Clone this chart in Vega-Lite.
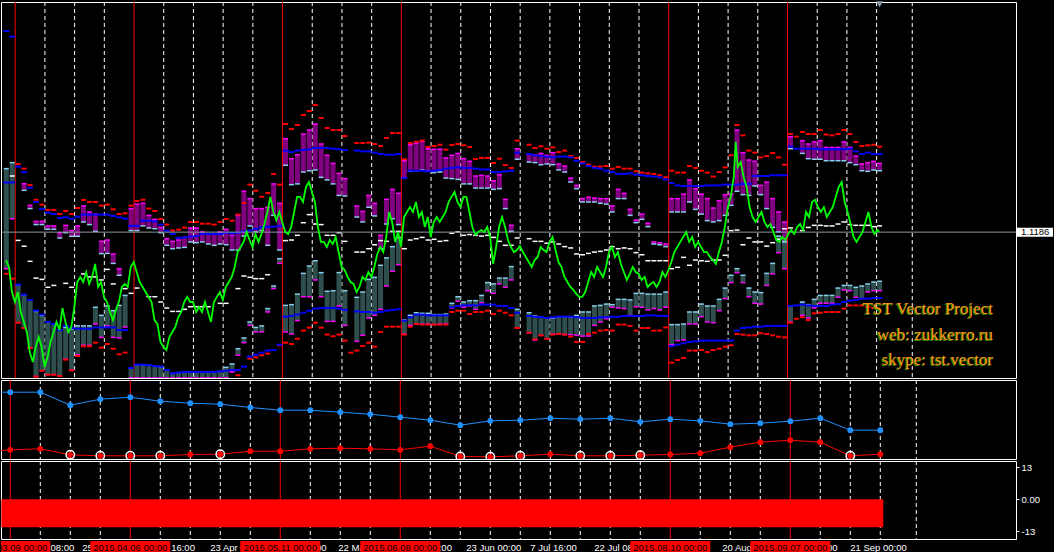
{
"$schema":"https://vega.github.io/schema/vega-lite/v6.json",
"background":"#000000",
"padding":0,
"spacing":2,
"bounds":"flush",
"config":{"view":{"stroke":"#FFFFFF","strokeWidth":1},"tick":{"opacity":1},"point":{"opacity":1},"area":{"opacity":1},"axis":{"labelColor":"#FFFFFF","tickColor":"#FFFFFF","domain":false,"grid":false,"labelFont":"Liberation Sans","labelFontSize":9.5,"tickSize":3,"labelPadding":2}},
"datasets":{
"grid":[{"i":-0.5,"kind":"month"},{"i":4.5,"kind":"week"},{"i":9.5,"kind":"week"},{"i":14.5,"kind":"week"},{"i":19.5,"kind":"month"},{"i":24.5,"kind":"week"},{"i":29.5,"kind":"week"},{"i":34.5,"kind":"week"},{"i":39.5,"kind":"week"},{"i":44.5,"kind":"month"},{"i":49.5,"kind":"week"},{"i":54.5,"kind":"week"},{"i":59.5,"kind":"week"},{"i":64.5,"kind":"month"},{"i":69.5,"kind":"week"},{"i":74.5,"kind":"week"},{"i":79.5,"kind":"week"},{"i":84.5,"kind":"week"},{"i":89.5,"kind":"week"},{"i":94.5,"kind":"week"},{"i":99.5,"kind":"week"},{"i":104.5,"kind":"week"},{"i":109.5,"kind":"month"},{"i":114.5,"kind":"week"},{"i":119.5,"kind":"week"},{"i":124.5,"kind":"week"},{"i":129.5,"kind":"month"},{"i":134.5,"kind":"week"},{"i":139.5,"kind":"week"},{"i":144.5,"kind":"week"},{"i":150.5,"kind":"week"}],
"cur":[{"p":1.1186}],
"notes":[{"i":164.1,"p":1.078,"txt":"TST Vector Project"},{"i":164.1,"p":1.064,"txt":"web: zukkerro.ru"},{"i":164.1,"p":1.0507,"txt":"skype: tst.vector"}],
"shift":[{"i":145,"p":1.2396}],
"days":[
{"i":-2,"ub":1.2254,"lb":1.145,"lr":1.0965,"st":1.1523,"sb":1.0992,"osc":-11.3},
{"i":-1,"ub":1.2224,"lb":1.145,"lr":1.0939,"w":1.1484,"st":1.1555,"sb":1.1257,"osc":-11.3},
{"i":0,"ur":1.1548,"ub":1.1534,"lb":1.0907,"lr":1.0705,"w":1.1142,"st":1.0907,"sb":1.0705,"osc":-11.3},
{"i":1,"ur":1.1523,"ub":1.1505,"lb":1.0854,"lr":1.0677,"w":1.1111,"pt":1.1443,"pb":1.1408,"st":1.0854,"sb":1.0677,"osc":-11.3},
{"i":2,"ur":1.1436,"ub":1.1422,"lb":1.0826,"lr":1.0571,"w":1.1031,"pt":1.1328,"pb":1.1311,"st":1.0826,"sb":1.0571,"osc":-11.3},
{"i":3,"ur":1.1358,"ub":1.1346,"lb":1.0769,"lr":1.0419,"w":1.0942,"pt":1.1243,"pb":1.1226,"st":1.0765,"sb":1.0419,"osc":-11.3},
{"i":4,"ur":1.1332,"ub":1.1309,"lb":1.0748,"lr":1.045,"w":1.0935,"pt":1.1243,"pb":1.1226,"st":1.0744,"sb":1.045,"osc":-11.3},
{"i":5,"ur":1.1304,"ub":1.1289,"lb":1.0709,"lr":1.0429,"w":1.0893,"pt":1.1219,"pb":1.1201,"st":1.0709,"sb":1.0429,"osc":-11.3},
{"i":6,"ur":1.1304,"ub":1.1282,"lb":1.0698,"lr":1.0429,"w":1.0903,"pt":1.1219,"pb":1.1201,"st":1.0698,"sb":1.0429,"osc":-11.3},
{"i":7,"ur":1.1282,"ub":1.1261,"lb":1.0666,"lr":1.0422,"pt":1.1183,"pb":1.1155,"st":1.0666,"sb":1.0422,"osc":-11.3},
{"i":8,"ur":1.1298,"ub":1.1265,"lb":1.0688,"lr":1.0509,"w":1.0914,"pt":1.1222,"pb":1.1183,"st":1.068,"sb":1.0511,"osc":-11.3},
{"i":9,"ur":1.1282,"ub":1.1257,"lb":1.0677,"lr":1.0452,"w":1.0893,"pt":1.1194,"pb":1.1164,"st":1.0673,"sb":1.0454,"osc":-11.3},
{"i":10,"ur":1.1314,"ub":1.1268,"lb":1.0673,"lr":1.0528,"pt":1.1219,"pb":1.1164,"st":1.0688,"sb":1.0535,"osc":-11.3},
{"i":11,"ur":1.1357,"ub":1.1279,"lb":1.0673,"lr":1.058,"w":1.0964,"pt":1.1325,"pb":1.124,"st":1.0688,"sb":1.0585,"osc":-11.3},
{"i":12,"ur":1.1346,"ub":1.1279,"lb":1.0673,"lr":1.058,"w":1.0948,"pt":1.1293,"pb":1.1226,"st":1.0688,"sb":1.0585,"osc":-11.3},
{"i":13,"ur":1.1346,"ub":1.1279,"lb":1.068,"lr":1.0599,"w":1.0948,"pt":1.1282,"pb":1.119,"st":1.0787,"sb":1.0698,"osc":-11.3},
{"i":14,"ur":1.1327,"ub":1.1279,"lb":1.068,"lr":1.0573,"w":1.0932,"pt":1.1137,"pb":1.1072,"st":1.0744,"sb":1.0627,"osc":-11.3},
{"i":15,"ur":1.1332,"ub":1.1279,"lb":1.068,"lr":1.0592,"w":1.0988,"pt":1.1144,"pb":1.1073,"st":1.0794,"sb":1.0688,"osc":-11.3},
{"i":16,"ur":1.1307,"ub":1.1272,"lb":1.068,"lr":1.0567,"w":1.0911,"pt":1.107,"pb":1.102,"st":1.0769,"sb":1.0627,"osc":-11.3},
{"i":17,"ur":1.1282,"ub":1.1265,"lb":1.0666,"lr":1.0537,"pt":1.0992,"pb":1.0957,"st":1.0797,"sb":1.0624,"osc":-11.3},
{"i":18,"ur":1.1286,"ub":1.1257,"lb":1.0666,"lr":1.0546,"w":1.0886,"st":1.085,"sb":1.0682,"osc":-11.3},
{"i":19,"ur":1.1327,"ub":1.1219,"lb":1.0465,"w":1.0861,"pt":1.1311,"pb":1.1194,"st":1.0465,"sb":1.0412,"osc":-11.3},
{"i":20,"ur":1.1351,"ub":1.1219,"lb":1.0482,"w":1.0889,"pt":1.1335,"pb":1.1194,"st":1.0482,"sb":1.0412,"osc":-11.3},
{"i":21,"ur":1.1358,"ub":1.1247,"lb":1.0482,"pt":1.1339,"pb":1.1219,"st":1.0482,"sb":1.0412,"osc":-11.3},
{"i":22,"ur":1.1311,"ub":1.1247,"lb":1.0479,"w":1.0843,"pt":1.1275,"pb":1.1208,"st":1.0479,"sb":1.0412,"osc":-11.3},
{"i":23,"ur":1.1298,"ub":1.1243,"lb":1.0475,"w":1.0843,"pt":1.1254,"pb":1.1204,"st":1.0475,"sb":1.0412,"osc":-11.3},
{"i":24,"ur":1.1256,"ub":1.1226,"lb":1.0472,"w":1.0815,"pt":1.1211,"pb":1.1183,"st":1.0472,"sb":1.0412,"osc":-11.3},
{"i":25,"ur":1.1226,"ub":1.1194,"lb":1.0454,"w":1.0783,"pt":1.1151,"pb":1.1116,"st":1.0454,"sb":1.0412,"osc":-11.3},
{"i":26,"ur":1.1194,"ub":1.1176,"lb":1.0436,"w":1.0765,"pt":1.1137,"pb":1.1098,"st":1.0436,"sb":1.0412,"osc":-11.3},
{"i":27,"ur":1.1199,"ub":1.1155,"lb":1.044,"w":1.0765,"pt":1.1144,"pb":1.1102,"st":1.044,"sb":1.0412,"osc":-11.3},
{"i":28,"ur":1.121,"ub":1.1158,"lb":1.0443,"w":1.0776,"pt":1.1158,"pb":1.1105,"st":1.0443,"sb":1.0412,"osc":-11.3},
{"i":29,"ur":1.124,"ub":1.1162,"lb":1.0443,"w":1.079,"pt":1.1208,"pb":1.1134,"st":1.0443,"sb":1.0412,"osc":-11.3},
{"i":30,"ur":1.124,"ub":1.1165,"lb":1.0443,"w":1.079,"pt":1.1208,"pb":1.113,"st":1.0443,"sb":1.0412,"osc":-11.3},
{"i":31,"ur":1.1231,"ub":1.1176,"lb":1.0443,"w":1.079,"pt":1.1187,"pb":1.1134,"st":1.0443,"sb":1.0412,"osc":-11.3},
{"i":32,"ur":1.1231,"ub":1.1176,"lb":1.0443,"w":1.079,"pt":1.1176,"pb":1.1123,"st":1.0443,"sb":1.0412,"osc":-11.3},
{"i":33,"ur":1.1226,"ub":1.1176,"lb":1.0443,"pt":1.1176,"pb":1.1116,"st":1.0443,"sb":1.0412,"osc":-11.3},
{"i":34,"ur":1.124,"ub":1.1176,"lb":1.0447,"w":1.0808,"pt":1.1187,"pb":1.1123,"st":1.0447,"sb":1.0412,"osc":-11.3},
{"i":35,"ur":1.1256,"ub":1.1183,"lb":1.045,"w":1.0808,"pt":1.1201,"pb":1.1119,"st":1.0468,"sb":1.0412,"osc":-11.3},
{"i":36,"ur":1.1247,"ub":1.118,"lb":1.0454,"pt":1.1169,"pb":1.1091,"st":1.0486,"sb":1.0443,"osc":-11.3},
{"i":37,"ur":1.1279,"ub":1.1183,"lb":1.0454,"lr":1.0426,"w":1.0886,"pt":1.1275,"pb":1.1091,"st":1.0567,"sb":1.0532,"osc":-11.3},
{"i":38,"ur":1.1341,"ub":1.119,"lb":1.0472,"w":1.0953,"pt":1.1403,"pb":1.1165,"st":1.0624,"sb":1.0599,"osc":-11.3},
{"i":39,"ur":1.1438,"ub":1.1194,"lb":1.0525,"lr":1.0514,"w":1.0946,"pt":1.1364,"pb":1.1219,"st":1.0709,"sb":1.0691,"osc":-11.3},
{"i":40,"ur":1.1406,"ub":1.1204,"lb":1.0535,"lr":1.0521,"w":1.0939,"pt":1.1311,"pb":1.1187,"st":1.068,"sb":1.0656,"osc":-11.3},
{"i":41,"ur":1.1374,"ub":1.1211,"lb":1.0546,"lr":1.0532,"w":1.0939,"pt":1.1311,"pb":1.1194,"st":1.0688,"sb":1.0656,"osc":-11.3},
{"i":42,"ur":1.1394,"ub":1.1215,"lb":1.0557,"lr":1.0541,"w":1.096,"pt":1.1318,"pb":1.1116,"st":1.078,"sb":1.0762,"osc":-11.3},
{"i":43,"ur":1.1495,"ub":1.1215,"lb":1.056,"pt":1.1442,"pb":1.1275,"st":1.09,"sb":1.0886,"osc":-11.3},
{"i":44,"ur":1.1438,"ub":1.1219,"lb":1.0588,"lr":1.0585,"pt":1.1339,"pb":1.1091,"st":1.1045,"sb":1.102,"osc":-11.3},
{"i":45,"ur":1.176,"ub":1.1619,"lb":1.0737,"lr":1.0599,"w":1.1141,"pt":1.1682,"pb":1.1541,"st":1.0797,"sb":1.0656,"osc":-11.3},
{"i":46,"ur":1.1734,"ub":1.1611,"lb":1.0741,"lr":1.0592,"w":1.1144,"pt":1.1576,"pb":1.1438,"st":1.0801,"sb":1.0645,"osc":-11.3},
{"i":47,"ur":1.1755,"ub":1.1619,"lb":1.0748,"lr":1.062,"w":1.1169,"pt":1.1597,"pb":1.1442,"st":1.0857,"sb":1.0716,"osc":-11.3},
{"i":48,"ur":1.1808,"ub":1.1622,"lb":1.0758,"lr":1.0663,"w":1.1236,"pt":1.1707,"pb":1.1505,"st":1.0967,"sb":1.0843,"osc":-11.3},
{"i":49,"ur":1.1829,"ub":1.1626,"lb":1.0769,"lr":1.0679,"w":1.1279,"pt":1.1728,"pb":1.1512,"st":1.1006,"sb":1.0843,"osc":-11.3},
{"i":50,"ur":1.1861,"ub":1.1633,"lb":1.078,"lr":1.0705,"w":1.1229,"pt":1.176,"pb":1.1516,"st":1.1034,"sb":1.0932,"osc":-11.3},
{"i":51,"ur":1.1792,"ub":1.1633,"lb":1.0783,"lr":1.0679,"w":1.1226,"pt":1.1654,"pb":1.1477,"st":1.0971,"sb":1.0843,"osc":-11.3},
{"i":52,"ur":1.1739,"ub":1.1633,"lb":1.0783,"lr":1.0642,"w":1.1169,"pt":1.1594,"pb":1.1463,"st":1.0872,"sb":1.0712,"osc":-11.3},
{"i":53,"ur":1.1728,"ub":1.1629,"lb":1.0783,"lr":1.0633,"w":1.1169,"pt":1.1551,"pb":1.1442,"st":1.0875,"sb":1.0712,"osc":-11.3},
{"i":54,"ur":1.1728,"ub":1.1626,"lb":1.078,"lr":1.0642,"w":1.1183,"pt":1.1498,"pb":1.1381,"st":1.0971,"sb":1.0794,"osc":-11.3},
{"i":55,"ur":1.1696,"ub":1.1622,"lb":1.0773,"lr":1.061,"w":1.1137,"pt":1.147,"pb":1.1378,"st":1.0875,"sb":1.0691,"osc":-11.3},
{"i":56,"lr":1.0546,"osc":-11.3},
{"i":57,"ur":1.1659,"ub":1.1619,"lb":1.0765,"lr":1.0557,"w":1.108,"pt":1.1325,"pb":1.1266,"st":1.084,"sb":1.0606,"osc":-11.3},
{"i":58,"ur":1.1659,"ub":1.1615,"lb":1.0762,"lr":1.0581,"w":1.108,"pt":1.1296,"pb":1.124,"st":1.0868,"sb":1.0638,"osc":-11.3},
{"i":59,"ur":1.1661,"ub":1.1615,"lb":1.0762,"lr":1.0599,"w":1.1098,"pt":1.1381,"pb":1.1318,"st":1.0935,"sb":1.073,"osc":-11.3},
{"i":60,"ur":1.1654,"ub":1.1608,"lb":1.0758,"lr":1.0578,"w":1.1119,"pt":1.1339,"pb":1.1272,"st":1.0946,"sb":1.0744,"osc":-11.3},
{"i":61,"ur":1.1643,"ub":1.1601,"lb":1.0762,"lr":1.0656,"w":1.1141,"pt":1.1169,"pb":1.1098,"st":1.101,"sb":1.0776,"osc":-11.3},
{"i":62,"ur":1.1686,"ub":1.1597,"lb":1.0769,"lr":1.0684,"w":1.1137,"pt":1.136,"pb":1.1229,"st":1.1049,"sb":1.09,"osc":-11.3},
{"i":63,"ur":1.1712,"ub":1.1597,"lb":1.0773,"lr":1.0684,"w":1.119,"pt":1.1413,"pb":1.1257,"st":1.1109,"sb":1.0978,"osc":-11.3},
{"i":64,"ur":1.1712,"ub":1.1601,"lb":1.0776,"lr":1.0684,"w":1.119,"pt":1.1392,"pb":1.1226,"st":1.1158,"sb":1.1013,"osc":-11.3},
{"i":65,"ur":1.1573,"ub":1.1473,"lb":1.0716,"lr":1.0642,"w":1.1098,"pt":1.1565,"pb":1.1473,"st":1.0719,"sb":1.0645,"osc":-11.3},
{"i":66,"ur":1.1659,"ub":1.1512,"lb":1.0734,"lr":1.0684,"w":1.1144,"pt":1.165,"pb":1.1509,"st":1.0744,"sb":1.0691,"osc":-11.3},
{"i":67,"ur":1.1666,"ub":1.1512,"lb":1.0748,"lr":1.0698,"w":1.1151,"pt":1.1658,"pb":1.1512,"st":1.0758,"sb":1.0698,"osc":-11.3},
{"i":68,"ur":1.1672,"ub":1.1512,"lb":1.0748,"lr":1.0695,"w":1.1158,"pt":1.1668,"pb":1.1516,"st":1.0755,"sb":1.0698,"osc":-11.3},
{"i":69,"ur":1.1638,"ub":1.1509,"lb":1.0744,"lr":1.0695,"w":1.1144,"pt":1.1629,"pb":1.1509,"st":1.0755,"sb":1.0698,"osc":-11.3},
{"i":70,"ur":1.1643,"ub":1.1512,"lb":1.0744,"lr":1.0695,"w":1.1148,"pt":1.1626,"pb":1.1502,"st":1.0748,"sb":1.0695,"osc":-11.3},
{"i":71,"ur":1.165,"ub":1.1516,"lb":1.0744,"lr":1.0695,"w":1.1137,"pt":1.1626,"pb":1.1505,"st":1.0748,"sb":1.0698,"osc":-11.3},
{"i":72,"ur":1.1624,"ub":1.1523,"lb":1.0744,"lr":1.0695,"w":1.1141,"pt":1.158,"pb":1.1473,"st":1.0751,"sb":1.0698,"osc":-11.3},
{"i":73,"ur":1.1649,"ub":1.1527,"lb":1.0787,"lr":1.0762,"w":1.118,"pt":1.1594,"pb":1.147,"st":1.0808,"sb":1.0783,"osc":-11.3},
{"i":74,"ur":1.1654,"ub":1.153,"lb":1.0794,"lr":1.0769,"w":1.1187,"pt":1.1604,"pb":1.1466,"st":1.0843,"sb":1.0819,"osc":-11.3},
{"i":75,"ur":1.1647,"ub":1.1527,"lb":1.0797,"lr":1.0769,"w":1.1169,"pt":1.1576,"pb":1.1442,"st":1.0815,"sb":1.0787,"osc":-11.3},
{"i":76,"ur":1.1638,"ub":1.1527,"lb":1.0797,"lr":1.0751,"w":1.1173,"pt":1.1562,"pb":1.1442,"st":1.0822,"sb":1.0794,"osc":-11.3},
{"i":77,"ur":1.1574,"ub":1.1523,"lb":1.0797,"lr":1.0762,"w":1.1169,"pt":1.1484,"pb":1.142,"st":1.0822,"sb":1.0776,"osc":-11.3},
{"i":78,"ur":1.158,"ub":1.1519,"lb":1.0801,"lr":1.0762,"w":1.1165,"pt":1.1488,"pb":1.142,"st":1.085,"sb":1.0811,"osc":-11.3},
{"i":79,"ur":1.158,"ub":1.1519,"lb":1.0801,"lr":1.0769,"w":1.1169,"pt":1.1484,"pb":1.142,"st":1.0918,"sb":1.0875,"osc":-11.3},
{"i":80,"ur":1.1553,"ub":1.1505,"lb":1.0801,"lr":1.0751,"w":1.1158,"pt":1.1459,"pb":1.1413,"st":1.0911,"sb":1.0861,"osc":-11.3},
{"i":81,"ur":1.1576,"ub":1.1505,"lb":1.0794,"lr":1.0769,"w":1.1137,"pt":1.1491,"pb":1.1417,"st":1.0942,"sb":1.0911,"osc":-11.3},
{"i":82,"ur":1.1542,"ub":1.1509,"lb":1.0794,"lr":1.0758,"w":1.1116,"pt":1.136,"pb":1.1311,"st":1.0942,"sb":1.0893,"osc":-11.3},
{"i":83,"ur":1.1527,"ub":1.1512,"lb":1.0783,"lr":1.0744,"w":1.1116,"pt":1.1222,"pb":1.119,"st":1.1003,"sb":1.0932,"osc":-11.3},
{"i":84,"ur":1.1672,"ub":1.1608,"lb":1.0758,"lr":1.0677,"w":1.1155,"pt":1.1629,"pb":1.1573,"st":1.0776,"sb":1.0677,"osc":-11.3},
{"i":85,"osc":-11.3},
{"i":86,"ur":1.165,"ub":1.1601,"lb":1.0741,"lr":1.0652,"w":1.1151,"pt":1.1601,"pb":1.1558,"st":1.0758,"sb":1.0652,"osc":-11.3},
{"i":87,"ur":1.1633,"ub":1.1594,"lb":1.0737,"lr":1.0617,"w":1.1137,"pt":1.1597,"pb":1.1555,"st":1.0741,"sb":1.0613,"osc":-11.3},
{"i":88,"ur":1.1642,"ub":1.159,"lb":1.0734,"lr":1.0638,"w":1.1137,"pt":1.1604,"pb":1.1544,"st":1.0734,"sb":1.0638,"osc":-11.3},
{"i":89,"ur":1.1629,"ub":1.1587,"lb":1.073,"lr":1.062,"w":1.1127,"pt":1.1594,"pb":1.1548,"st":1.073,"sb":1.062,"osc":-11.3},
{"i":90,"ur":1.1636,"ub":1.1583,"lb":1.0734,"lr":1.0642,"w":1.1134,"pt":1.1608,"pb":1.1544,"st":1.073,"sb":1.0645,"osc":-11.3},
{"i":91,"ur":1.1611,"ub":1.1587,"lb":1.0737,"lr":1.0645,"w":1.1123,"pt":1.1548,"pb":1.1516,"st":1.0737,"sb":1.0645,"osc":-11.3},
{"i":92,"ur":1.1619,"ub":1.1587,"lb":1.0737,"lr":1.0642,"w":1.1109,"pt":1.1537,"pb":1.1505,"st":1.0737,"sb":1.0642,"osc":-11.3},
{"i":93,"ur":1.159,"ub":1.1583,"lb":1.0737,"lr":1.0631,"w":1.1102,"pt":1.1473,"pb":1.1452,"st":1.0737,"sb":1.0642,"osc":-11.3},
{"i":94,"ur":1.158,"ub":1.1565,"lb":1.0734,"lr":1.0603,"w":1.107,"pt":1.1434,"pb":1.1417,"st":1.0744,"sb":1.0638,"osc":-11.3},
{"i":95,"ur":1.1558,"ub":1.1551,"lb":1.073,"lr":1.0603,"w":1.1066,"pt":1.1364,"pb":1.1346,"st":1.0762,"sb":1.0634,"osc":-11.3},
{"i":96,"ur":1.1544,"ub":1.1537,"lb":1.073,"lr":1.0645,"w":1.1073,"pt":1.1371,"pb":1.1346,"st":1.0762,"sb":1.0634,"osc":-11.3},
{"i":97,"ur":1.1534,"ub":1.1527,"lb":1.073,"lr":1.0652,"w":1.108,"pt":1.1367,"pb":1.1346,"st":1.0794,"sb":1.0691,"osc":-11.3},
{"i":98,"ur":1.1534,"ub":1.1523,"lb":1.0734,"lr":1.0663,"w":1.1084,"pt":1.1364,"pb":1.1339,"st":1.0797,"sb":1.0709,"osc":-11.3},
{"i":99,"ur":1.1537,"ub":1.1512,"lb":1.0734,"lr":1.0666,"w":1.1091,"pt":1.1364,"pb":1.1335,"st":1.0804,"sb":1.0726,"osc":-11.3},
{"i":100,"ur":1.1523,"ub":1.1505,"lb":1.0737,"lr":1.0663,"w":1.1109,"pt":1.1325,"pb":1.1293,"st":1.0801,"sb":1.0787,"osc":-11.3},
{"i":101,"ur":1.1532,"ub":1.1495,"lb":1.0737,"lr":1.0695,"w":1.1098,"pt":1.1413,"pb":1.1364,"st":1.0829,"sb":1.0783,"osc":-11.3},
{"i":102,"ur":1.1523,"ub":1.1495,"lb":1.0741,"lr":1.0695,"w":1.1102,"pt":1.1392,"pb":1.1364,"st":1.0829,"sb":1.078,"osc":-11.3},
{"i":103,"ur":1.1523,"ub":1.1498,"lb":1.0741,"lr":1.0688,"w":1.1098,"pt":1.1307,"pb":1.1275,"st":1.0826,"sb":1.0744,"osc":-11.3},
{"i":104,"ur":1.1509,"ub":1.1491,"lb":1.0741,"lr":1.0663,"w":1.1077,"pt":1.125,"pb":1.1236,"st":1.0861,"sb":1.079,"osc":-11.3},
{"i":105,"ur":1.1502,"ub":1.1488,"lb":1.0741,"lr":1.0677,"w":1.1066,"pt":1.1282,"pb":1.1254,"st":1.0861,"sb":1.0787,"osc":-11.3},
{"i":106,"ur":1.1498,"ub":1.1484,"lb":1.0744,"lr":1.0677,"w":1.1034,"pt":1.1233,"pb":1.1215,"st":1.0857,"sb":1.0773,"osc":-11.3},
{"i":107,"ur":1.1495,"ub":1.1481,"lb":1.0744,"lr":1.0663,"w":1.1034,"pt":1.1134,"pb":1.1123,"st":1.0857,"sb":1.078,"osc":-11.3},
{"i":108,"ur":1.1488,"ub":1.1477,"lb":1.0741,"lr":1.0663,"w":1.1034,"pt":1.113,"pb":1.1119,"st":1.0857,"sb":1.0773,"osc":-11.3},
{"i":109,"ur":1.1477,"ub":1.1466,"lb":1.0741,"lr":1.068,"w":1.1034,"pt":1.1123,"pb":1.1109,"st":1.0868,"sb":1.0787,"osc":-11.3},
{"i":110,"ur":1.1512,"ub":1.1447,"lb":1.0581,"lr":1.0493,"w":1.0992,"pt":1.1364,"pb":1.1293,"st":1.0695,"sb":1.0588,"osc":-11.3},
{"i":111,"ur":1.1502,"ub":1.1434,"lb":1.0588,"lr":1.0507,"w":1.0999,"pt":1.1364,"pb":1.1293,"st":1.0695,"sb":1.061,"osc":-11.3},
{"i":112,"ur":1.1502,"ub":1.1431,"lb":1.0596,"lr":1.0518,"w":1.1052,"pt":1.1388,"pb":1.1293,"st":1.0698,"sb":1.0613,"osc":-11.3},
{"i":113,"ur":1.1537,"ub":1.1431,"lb":1.0603,"lr":1.0557,"w":1.101,"pt":1.1463,"pb":1.1346,"st":1.0762,"sb":1.0698,"osc":-11.3},
{"i":114,"ur":1.1527,"ub":1.1431,"lb":1.0606,"lr":1.0557,"w":1.1038,"pt":1.1417,"pb":1.1307,"st":1.0762,"sb":1.0698,"osc":-11.3},
{"i":115,"ur":1.1512,"ub":1.1431,"lb":1.061,"lr":1.056,"w":1.1034,"pt":1.1388,"pb":1.1282,"st":1.0804,"sb":1.0737,"osc":-11.3},
{"i":116,"ur":1.1502,"ub":1.1434,"lb":1.061,"lr":1.0549,"w":1.1031,"pt":1.1364,"pb":1.1247,"st":1.0794,"sb":1.0709,"osc":-11.3},
{"i":117,"ur":1.1481,"ub":1.1434,"lb":1.061,"lr":1.056,"w":1.1038,"pt":1.1314,"pb":1.124,"st":1.0794,"sb":1.0705,"osc":-11.3},
{"i":118,"ur":1.1505,"ub":1.1434,"lb":1.061,"lr":1.0567,"w":1.1038,"pt":1.1353,"pb":1.1247,"st":1.0829,"sb":1.0769,"osc":-11.3},
{"i":119,"ur":1.153,"ub":1.1438,"lb":1.061,"lr":1.0578,"w":1.1063,"pt":1.1385,"pb":1.1275,"st":1.0889,"sb":1.0833,"osc":-11.3},
{"i":120,"ur":1.1594,"ub":1.1438,"lb":1.061,"lr":1.0585,"w":1.1194,"pt":1.1388,"pb":1.1328,"st":1.0957,"sb":1.0918,"osc":-11.3},
{"i":121,"ur":1.1755,"ub":1.1438,"lb":1.0663,"lr":1.0645,"w":1.1197,"pt":1.1728,"pb":1.1403,"st":1.0992,"sb":1.0971,"osc":-11.3},
{"i":122,"ur":1.17,"ub":1.1442,"lb":1.0677,"lr":1.0642,"w":1.1119,"pt":1.1608,"pb":1.1385,"st":1.0957,"sb":1.0918,"osc":-11.3},
{"i":123,"ur":1.1619,"ub":1.1442,"lb":1.068,"lr":1.0638,"w":1.1155,"pt":1.1569,"pb":1.1381,"st":1.0889,"sb":1.0843,"osc":-11.3},
{"i":124,"ur":1.1608,"ub":1.1484,"lb":1.0684,"lr":1.0638,"w":1.1134,"pt":1.1562,"pb":1.1431,"st":1.0868,"sb":1.0808,"osc":-11.3},
{"i":125,"ur":1.1583,"ub":1.1484,"lb":1.0684,"lr":1.0649,"w":1.1134,"pt":1.1434,"pb":1.1385,"st":1.0865,"sb":1.0804,"osc":-11.3},
{"i":126,"ur":1.159,"ub":1.1484,"lb":1.0688,"lr":1.0645,"w":1.1112,"pt":1.1452,"pb":1.1311,"st":1.0967,"sb":1.0903,"osc":-11.3},
{"i":127,"ur":1.1606,"ub":1.1488,"lb":1.0688,"lr":1.0638,"w":1.113,"pt":1.1364,"pb":1.1211,"st":1.102,"sb":1.0964,"osc":-11.3},
{"i":128,"ur":1.1583,"ub":1.1488,"lb":1.0688,"lr":1.0631,"w":1.1148,"pt":1.1293,"pb":1.1187,"st":1.1165,"sb":1.1077,"osc":-11.3},
{"i":129,"ur":1.1544,"ub":1.1488,"lb":1.0688,"lr":1.0627,"w":1.1204,"pt":1.124,"pb":1.1134,"st":1.1137,"sb":1.0992,"osc":-11.3},
{"i":130,"ur":1.1707,"ub":1.164,"lb":1.0794,"lr":1.0705,"w":1.1208,"pt":1.1693,"pb":1.1629,"st":1.0794,"sb":1.0709,"osc":-11.3},
{"i":131,"ur":1.1693,"ub":1.1629,"lb":1.0797,"lr":1.0726,"osc":-11.3},
{"i":132,"ur":1.1718,"ub":1.1629,"lb":1.0801,"lr":1.0734,"w":1.1194,"pt":1.1672,"pb":1.1604,"st":1.0815,"sb":1.0744,"osc":-11.3},
{"i":133,"ur":1.1707,"ub":1.1629,"lb":1.0797,"lr":1.0719,"w":1.1211,"pt":1.1654,"pb":1.1576,"st":1.0801,"sb":1.073,"osc":-11.3},
{"i":134,"ur":1.1707,"ub":1.1629,"lb":1.0794,"lr":1.0755,"w":1.1222,"pt":1.1665,"pb":1.1573,"st":1.0829,"sb":1.0783,"osc":-11.3},
{"i":135,"ur":1.1728,"ub":1.1626,"lb":1.0794,"lr":1.0758,"w":1.1222,"pt":1.1672,"pb":1.1573,"st":1.085,"sb":1.0808,"osc":-11.3},
{"i":136,"ur":1.1704,"ub":1.1626,"lb":1.0794,"lr":1.0762,"w":1.1219,"pt":1.1636,"pb":1.1565,"st":1.085,"sb":1.0808,"osc":-11.3},
{"i":137,"ur":1.17,"ub":1.1626,"lb":1.0801,"lr":1.0762,"w":1.1219,"pt":1.1636,"pb":1.1565,"st":1.085,"sb":1.0808,"osc":-11.3},
{"i":138,"ur":1.1707,"ub":1.1626,"lb":1.0804,"lr":1.0762,"w":1.1229,"pt":1.1636,"pb":1.1565,"st":1.0889,"sb":1.084,"osc":-11.3},
{"i":139,"ur":1.1728,"ub":1.1626,"lb":1.0815,"lr":1.078,"w":1.124,"pt":1.1665,"pb":1.1565,"st":1.0903,"sb":1.0879,"osc":-11.3},
{"i":140,"ur":1.1707,"ub":1.1629,"lb":1.0822,"lr":1.0797,"w":1.1226,"pt":1.1636,"pb":1.1555,"st":1.0903,"sb":1.0875,"osc":-11.3},
{"i":141,"ur":1.1665,"ub":1.1615,"lb":1.0826,"lr":1.0797,"w":1.1222,"pt":1.159,"pb":1.1544,"st":1.0893,"sb":1.084,"osc":-11.3},
{"i":142,"ur":1.1643,"ub":1.1601,"lb":1.0833,"lr":1.0797,"w":1.1222,"pt":1.1548,"pb":1.1512,"st":1.09,"sb":1.0833,"osc":-11.3},
{"i":143,"ur":1.1647,"ub":1.1608,"lb":1.0833,"lr":1.079,"w":1.1222,"pt":1.1555,"pb":1.1509,"st":1.0911,"sb":1.0868,"osc":-11.3},
{"i":144,"ur":1.165,"ub":1.1601,"lb":1.0836,"lr":1.0783,"w":1.1215,"pt":1.1562,"pb":1.1516,"st":1.0921,"sb":1.0875,"osc":-11.3},
{"i":145,"ur":1.164,"ub":1.1601,"lb":1.0836,"w":1.1219,"pt":1.1551,"pb":1.1512,"st":1.0925,"sb":1.0875,"osc":-11.3}
],
"price":[
{"i":-2.05,"p":1.1038},{"i":-1.55,"p":1.1001},{"i":-1.05,"p":1.0868},{"i":-0.55,"p":1.0815},{"i":-0.05,"p":1.0868},{"i":0.45,"p":1.0762},{"i":0.95,"p":1.0709},{"i":1.45,"p":1.0656},{"i":1.95,"p":1.055},{"i":2.45,"p":1.0496},{"i":2.95,"p":1.0576},{"i":3.45,"p":1.0629},{"i":3.95,"p":1.0576},{"i":4.45,"p":1.047},{"i":4.95,"p":1.0523},{"i":5.45,"p":1.0603},{"i":5.95,"p":1.0656},{"i":6.45,"p":1.0709},{"i":6.95,"p":1.0666},{"i":7.45,"p":1.0783},{"i":7.95,"p":1.0709},{"i":8.45,"p":1.0656},{"i":8.95,"p":1.0682},{"i":9.45,"p":1.0788},{"i":9.95,"p":1.0921},{"i":10.45,"p":1.0948},{"i":10.95,"p":1.0921},{"i":11.45,"p":1.0974},{"i":11.95,"p":1.0911},{"i":12.45,"p":1.0948},{"i":12.95,"p":1.1017},{"i":13.45,"p":1.0895},{"i":13.95,"p":1.0921},{"i":14.45,"p":1.0842},{"i":14.95,"p":1.0815},{"i":15.45,"p":1.0762},{"i":15.95,"p":1.0719},{"i":16.45,"p":1.0773},{"i":16.95,"p":1.0815},{"i":17.45,"p":1.0895},{"i":17.95,"p":1.0911},{"i":18.45,"p":1.0895},{"i":18.95,"p":1.1001},{"i":19.45,"p":1.1027},{"i":19.95,"p":1.0974},{"i":20.45,"p":1.0921},{"i":20.95,"p":1.0895},{"i":21.45,"p":1.0868},{"i":21.95,"p":1.0842},{"i":22.45,"p":1.0815},{"i":22.95,"p":1.0719},{"i":23.45,"p":1.0698},{"i":23.95,"p":1.0603},{"i":24.45,"p":1.0576},{"i":24.95,"p":1.056},{"i":25.45,"p":1.0629},{"i":25.95,"p":1.0656},{"i":26.45,"p":1.0682},{"i":26.95,"p":1.0735},{"i":27.45,"p":1.0762},{"i":27.95,"p":1.0815},{"i":28.45,"p":1.0842},{"i":28.95,"p":1.0815},{"i":29.45,"p":1.0815},{"i":29.95,"p":1.0762},{"i":30.45,"p":1.0788},{"i":30.95,"p":1.0762},{"i":31.45,"p":1.0815},{"i":31.95,"p":1.0762},{"i":32.45,"p":1.0709},{"i":32.95,"p":1.0815},{"i":33.45,"p":1.0842},{"i":33.95,"p":1.0868},{"i":34.45,"p":1.0826},{"i":34.95,"p":1.0895},{"i":35.45,"p":1.0921},{"i":35.95,"p":1.0948},{"i":36.45,"p":1.1001},{"i":36.95,"p":1.108},{"i":37.45,"p":1.1107},{"i":37.95,"p":1.1134},{"i":38.45,"p":1.1187},{"i":38.95,"p":1.1144},{"i":39.45,"p":1.1107},{"i":39.95,"p":1.1176},{"i":40.45,"p":1.1134},{"i":40.95,"p":1.1176},{"i":41.45,"p":1.1229},{"i":41.95,"p":1.1293},{"i":42.45,"p":1.1373},{"i":42.95,"p":1.1293},{"i":43.45,"p":1.125},{"i":43.95,"p":1.1293},{"i":44.45,"p":1.124},{"i":44.95,"p":1.1187},{"i":45.45,"p":1.1176},{"i":45.95,"p":1.1213},{"i":46.45,"p":1.1293},{"i":46.95,"p":1.1373},{"i":47.45,"p":1.1373},{"i":47.95,"p":1.1346},{"i":48.45,"p":1.1426},{"i":48.95,"p":1.1452},{"i":49.45,"p":1.1399},{"i":49.95,"p":1.1346},{"i":50.45,"p":1.1213},{"i":50.95,"p":1.1134},{"i":51.45,"p":1.1134},{"i":51.95,"p":1.1107},{"i":52.45,"p":1.1144},{"i":52.95,"p":1.1123},{"i":53.45,"p":1.116},{"i":53.95,"p":1.108},{"i":54.45,"p":1.1001},{"i":54.95,"p":1.0985},{"i":55.45,"p":1.0948},{"i":55.95,"p":1.0921},{"i":56.45,"p":1.0911},{"i":56.95,"p":1.0868},{"i":57.45,"p":1.0895},{"i":57.95,"p":1.0948},{"i":58.45,"p":1.0932},{"i":58.95,"p":1.0974},{"i":59.45,"p":1.0948},{"i":59.95,"p":1.1001},{"i":60.45,"p":1.107},{"i":60.95,"p":1.1107},{"i":61.45,"p":1.108},{"i":61.95,"p":1.116},{"i":62.45,"p":1.1293},{"i":62.95,"p":1.124},{"i":63.45,"p":1.1134},{"i":63.95,"p":1.1187},{"i":64.45,"p":1.1107},{"i":64.95,"p":1.1266},{"i":65.45,"p":1.1293},{"i":65.95,"p":1.1319},{"i":66.45,"p":1.1293},{"i":66.95,"p":1.1346},{"i":67.45,"p":1.1266},{"i":67.95,"p":1.1293},{"i":68.45,"p":1.1213},{"i":68.95,"p":1.1266},{"i":69.45,"p":1.116},{"i":69.95,"p":1.124},{"i":70.45,"p":1.1266},{"i":70.95,"p":1.124},{"i":71.45,"p":1.1266},{"i":71.95,"p":1.1293},{"i":72.45,"p":1.1346},{"i":72.95,"p":1.1373},{"i":73.45,"p":1.1399},{"i":73.95,"p":1.1346},{"i":74.45,"p":1.1319},{"i":74.95,"p":1.1373},{"i":75.45,"p":1.1373},{"i":75.95,"p":1.1293},{"i":76.45,"p":1.1213},{"i":76.95,"p":1.1171},{"i":77.45,"p":1.1187},{"i":77.95,"p":1.1197},{"i":78.45,"p":1.1187},{"i":78.95,"p":1.1213},{"i":79.45,"p":1.116},{"i":79.95,"p":1.1017},{"i":80.45,"p":1.1107},{"i":80.95,"p":1.1213},{"i":81.45,"p":1.1266},{"i":81.95,"p":1.1213},{"i":82.45,"p":1.1144},{"i":82.95,"p":1.1107},{"i":83.45,"p":1.108},{"i":83.95,"p":1.1091},{"i":84.45,"p":1.1112},{"i":84.95,"p":1.108},{"i":85.45,"p":1.1054},{"i":85.95,"p":1.1027},{"i":86.45,"p":1.1001},{"i":86.95,"p":1.1038},{"i":87.45,"p":1.1054},{"i":87.95,"p":1.1107},{"i":88.45,"p":1.1091},{"i":88.95,"p":1.108},{"i":89.45,"p":1.1134},{"i":89.95,"p":1.116},{"i":90.45,"p":1.1091},{"i":90.95,"p":1.1027},{"i":91.45,"p":1.1001},{"i":91.95,"p":1.0948},{"i":92.45,"p":1.0921},{"i":92.95,"p":1.0895},{"i":93.45,"p":1.0879},{"i":93.95,"p":1.0858},{"i":94.45,"p":1.0842},{"i":94.95,"p":1.0842},{"i":95.45,"p":1.0868},{"i":95.95,"p":1.0921},{"i":96.45,"p":1.0974},{"i":96.95,"p":1.0948},{"i":97.45,"p":1.1001},{"i":97.95,"p":1.0974},{"i":98.45,"p":1.0948},{"i":98.95,"p":1.1001},{"i":99.45,"p":1.108},{"i":99.95,"p":1.1107},{"i":100.45,"p":1.1054},{"i":100.95,"p":1.108},{"i":101.45,"p":1.1017},{"i":101.95,"p":1.0974},{"i":102.45,"p":1.0932},{"i":102.95,"p":1.0964},{"i":103.45,"p":1.1001},{"i":103.95,"p":1.0974},{"i":104.45,"p":1.0964},{"i":104.95,"p":1.0932},{"i":105.45,"p":1.0948},{"i":105.95,"p":1.0895},{"i":106.45,"p":1.0911},{"i":106.95,"p":1.0921},{"i":107.45,"p":1.0895},{"i":107.95,"p":1.0921},{"i":108.45,"p":1.0974},{"i":108.95,"p":1.0948},{"i":109.45,"p":1.0985},{"i":109.95,"p":1.1027},{"i":110.45,"p":1.108},{"i":110.95,"p":1.1107},{"i":111.45,"p":1.1134},{"i":111.95,"p":1.116},{"i":112.45,"p":1.1187},{"i":112.95,"p":1.1134},{"i":113.45,"p":1.116},{"i":113.95,"p":1.1107},{"i":114.45,"p":1.1134},{"i":114.95,"p":1.1107},{"i":115.45,"p":1.108},{"i":115.95,"p":1.108},{"i":116.45,"p":1.1054},{"i":116.95,"p":1.1038},{"i":117.45,"p":1.1017},{"i":117.95,"p":1.108},{"i":118.45,"p":1.1134},{"i":118.95,"p":1.1213},{"i":119.45,"p":1.1319},{"i":119.95,"p":1.1373},{"i":120.45,"p":1.1479},{"i":120.78,"p":1.1665},{"i":121.12,"p":1.1532},{"i":121.62,"p":1.1558},{"i":122.12,"p":1.1479},{"i":122.62,"p":1.1426},{"i":123.12,"p":1.1319},{"i":123.62,"p":1.1266},{"i":124.12,"p":1.124},{"i":124.62,"p":1.1266},{"i":125.12,"p":1.1293},{"i":125.62,"p":1.124},{"i":126.12,"p":1.1213},{"i":126.62,"p":1.1229},{"i":127.12,"p":1.1187},{"i":127.62,"p":1.1144},{"i":128.12,"p":1.1134},{"i":128.62,"p":1.116},{"i":129.12,"p":1.1144},{"i":129.62,"p":1.1176},{"i":130.12,"p":1.1197},{"i":130.62,"p":1.1176},{"i":131.12,"p":1.1213},{"i":131.62,"p":1.1229},{"i":132.12,"p":1.1197},{"i":132.62,"p":1.1293},{"i":133.12,"p":1.1266},{"i":133.62,"p":1.1346},{"i":134.12,"p":1.1357},{"i":134.62,"p":1.1319},{"i":135.12,"p":1.1293},{"i":135.62,"p":1.1319},{"i":136.12,"p":1.1266},{"i":136.62,"p":1.1293},{"i":137.12,"p":1.1319},{"i":137.62,"p":1.1373},{"i":138.12,"p":1.1426},{"i":138.62,"p":1.1452},{"i":139.12,"p":1.1346},{"i":139.62,"p":1.1293},{"i":140.12,"p":1.1229},{"i":140.62,"p":1.116},{"i":141.12,"p":1.1134},{"i":141.62,"p":1.116},{"i":142.12,"p":1.1187},{"i":142.62,"p":1.124},{"i":143.12,"p":1.1293},{"i":143.62,"p":1.1213},{"i":144.12,"p":1.1176},{"i":144.62,"p":1.1197},{"i":144.95,"p":1.1187}
],
"wk":[
{"i":-5.5,"blue":246500,"red":0},{"i":-0.5,"blue":246500,"red":11000},{"i":4.5,"blue":246500,"red":15100},{"i":9.5,"blue":193400,"red":-9400,"hand":1},{"i":14.5,"blue":217900,"red":-13500,"hand":1},{"i":19.5,"blue":226100,"red":-13500,"hand":1},{"i":24.5,"blue":209700,"red":-13500,"hand":1},{"i":29.5,"blue":201500,"red":-8200},{"i":34.5,"blue":197500,"red":-7000,"hand":1},{"i":39.5,"blue":184000,"red":5300},{"i":44.5,"blue":172900,"red":5300},{"i":49.5,"blue":172900,"red":15100},{"i":54.5,"blue":164700,"red":17600},{"i":59.5,"blue":156600,"red":15100},{"i":64.5,"blue":144300,"red":11000},{"i":69.5,"blue":132000,"red":25800},{"i":74.5,"blue":111600,"red":-16400,"hand":1},{"i":79.5,"blue":129600,"red":-17600,"hand":1},{"i":84.5,"blue":132000,"red":-13500,"hand":1},{"i":89.5,"blue":140200,"red":-7000},{"i":94.5,"blue":136100,"red":-13500,"hand":1},{"i":99.5,"blue":140200,"red":-13500,"hand":1},{"i":104.5,"blue":125500,"red":-11000,"hand":1},{"i":109.5,"blue":136100,"red":-8200},{"i":114.5,"blue":129600,"red":-2900},{"i":119.5,"blue":115700,"red":21700},{"i":124.5,"blue":119800,"red":42100},{"i":129.5,"blue":128000,"red":50300},{"i":134.5,"blue":140200,"red":42100},{"i":139.5,"blue":91200,"red":-13500,"hand":1},{"i":144.5,"blue":91200,"red":-7000}
],
"xl":[{"i":0.83,"txt":"10 Mar 08:00"},{"i":11.5,"txt":"25 Mar 00:00"},{"i":22.17,"txt":"8 Apr 16:00"},{"i":32.83,"txt":"23 Apr 08:00"},{"i":43.5,"txt":"8 May 00:00"},{"i":54.17,"txt":"22 May 16:00"},{"i":64.83,"txt":"8 Jun 08:00"},{"i":75.5,"txt":"23 Jun 00:00"},{"i":86.17,"txt":"7 Jul 16:00"},{"i":96.83,"txt":"22 Jul 08:00"},{"i":107.5,"txt":"6 Aug 00:00"},{"i":118.17,"txt":"20 Aug 16:00"},{"i":128.83,"txt":"4 Sep 08:00"},{"i":139.5,"txt":"21 Sep 00:00"}],
"rl":[{"i":-0.5,"txt":"2015.03.09 00:00"},{"i":19.5,"txt":"2015.04.06 00:00"},{"i":44.5,"txt":"2015.05.11 00:00"},{"i":64.5,"txt":"2015.06.08 00:00"},{"i":109.5,"txt":"2015.08.10 00:00"},{"i":129.5,"txt":"2015.09.07 00:00"}]
},
"vconcat":[
{
"width":1015,"height":376,
"layer":[
{"data":{"name":"grid"},"transform":[{"filter":"datum.kind=='week'"}],"mark":{"type":"rule","color":"#FFFFFF","strokeDash":[4,3],"strokeWidth":1},"encoding":{"x":{"field":"i","type":"quantitative","scale":{"domain":[-2.05,167.12],"nice":false,"zero":false},"axis":null}}},
{"data":{"name":"grid"},"transform":[{"filter":"datum.kind=='month'"}],"mark":{"type":"rule","color":"#FF0000","strokeWidth":1},"encoding":{"x":{"field":"i","type":"quantitative","scale":{"domain":[-2.05,167.12],"nice":false,"zero":false},"axis":null}}},
{"data":{"name":"days"},"transform":[{"filter":"isValid(datum.pt)"}],"mark":{"type":"bar","color":"#800080","size":5,"clip":true},"encoding":{"x":{"field":"i","type":"quantitative","scale":{"domain":[-2.05,167.12],"nice":false,"zero":false},"axis":null},"y":{"field":"pt","type":"quantitative","scale":{"domain":[1.04114,1.2408],"nice":false,"zero":false},"axis":{"orient":"right","title":null,"values":[1.0425,1.06,1.0775,1.095,1.1125,1.13,1.1475,1.165,1.183,1.2005,1.218,1.2355],"format":".4f"}},"y2":{"field":"pb"}}},
{"data":{"name":"days"},"transform":[{"filter":"isValid(datum.st)"}],"mark":{"type":"bar","color":"#2F4F4F","size":5,"clip":true},"encoding":{"x":{"field":"i","type":"quantitative","scale":{"domain":[-2.05,167.12],"nice":false,"zero":false},"axis":null},"y":{"field":"st","type":"quantitative","scale":{"domain":[1.04114,1.2408],"nice":false,"zero":false},"axis":null},"y2":{"field":"sb"}}},
{"data":{"name":"days"},"transform":[{"fold":["pt","sb"],"as":["k","v"]},{"filter":"isValid(datum.v)"}],"mark":{"type":"tick","orient":"horizontal","size":5,"thickness":1.5,"color":"#FF00FF","opacity":1,"clip":true},"encoding":{"x":{"field":"i","type":"quantitative","scale":{"domain":[-2.05,167.12],"nice":false,"zero":false},"axis":null},"y":{"field":"v","type":"quantitative","scale":{"domain":[1.04114,1.2408],"nice":false,"zero":false},"axis":null}}},
{"data":{"name":"days"},"transform":[{"fold":["pb","st"],"as":["k","v"]},{"filter":"isValid(datum.v)"}],"mark":{"type":"tick","orient":"horizontal","size":5,"thickness":1.5,"color":"#87CEEB","opacity":1,"clip":true},"encoding":{"x":{"field":"i","type":"quantitative","scale":{"domain":[-2.05,167.12],"nice":false,"zero":false},"axis":null},"y":{"field":"v","type":"quantitative","scale":{"domain":[1.04114,1.2408],"nice":false,"zero":false},"axis":null}}},
{"data":{"name":"days"},"transform":[{"fold":["ur","lr"],"as":["k","v"]},{"filter":"isValid(datum.v)"}],"mark":{"type":"tick","orient":"horizontal","size":5,"thickness":2,"color":"#FF0000","opacity":1,"clip":true},"encoding":{"x":{"field":"i","type":"quantitative","scale":{"domain":[-2.05,167.12],"nice":false,"zero":false},"axis":null},"y":{"field":"v","type":"quantitative","scale":{"domain":[1.04114,1.2408],"nice":false,"zero":false},"axis":null}}},
{"data":{"name":"days"},"transform":[{"fold":["ub","lb"],"as":["k","v"]},{"filter":"isValid(datum.v)"}],"mark":{"type":"tick","orient":"horizontal","size":6,"thickness":2,"color":"#0000FF","opacity":1,"clip":true},"encoding":{"x":{"field":"i","type":"quantitative","scale":{"domain":[-2.05,167.12],"nice":false,"zero":false},"axis":null},"y":{"field":"v","type":"quantitative","scale":{"domain":[1.04114,1.2408],"nice":false,"zero":false},"axis":null}}},
{"data":{"name":"days"},"transform":[{"filter":"isValid(datum.w)"}],"mark":{"type":"tick","orient":"horizontal","size":5,"thickness":1.5,"color":"#FFFFFF","opacity":1,"clip":true},"encoding":{"x":{"field":"i","type":"quantitative","scale":{"domain":[-2.05,167.12],"nice":false,"zero":false},"axis":null},"y":{"field":"w","type":"quantitative","scale":{"domain":[1.04114,1.2408],"nice":false,"zero":false},"axis":null}}},
{"data":{"name":"cur"},"mark":{"type":"rule","color":"#8A9AA8","strokeWidth":1},"encoding":{"y":{"field":"p","type":"quantitative","scale":{"domain":[1.04114,1.2408],"nice":false,"zero":false},"axis":null}}},
{"data":{"name":"price"},"mark":{"type":"line","color":"#00FF00","strokeWidth":1.8,"clip":true},"encoding":{"x":{"field":"i","type":"quantitative","scale":{"domain":[-2.05,167.12],"nice":false,"zero":false},"axis":null},"y":{"field":"p","type":"quantitative","scale":{"domain":[1.04114,1.2408],"nice":false,"zero":false},"axis":null}}},
{"data":{"name":"notes"},"mark":{"type":"text","align":"right","baseline":"middle","font":"Liberation Serif","fontSize":17,"color":"#3C8C00","dx":-1,"dy":1},"encoding":{"x":{"field":"i","type":"quantitative","scale":{"domain":[-2.05,167.12],"nice":false,"zero":false},"axis":null},"y":{"field":"p","type":"quantitative","scale":{"domain":[1.04114,1.2408],"nice":false,"zero":false},"axis":null},"text":{"field":"txt"}}},
{"data":{"name":"notes"},"mark":{"type":"text","align":"right","baseline":"middle","font":"Liberation Serif","fontSize":17,"color":"#FF9A1A"},"encoding":{"x":{"field":"i","type":"quantitative","scale":{"domain":[-2.05,167.12],"nice":false,"zero":false},"axis":null},"y":{"field":"p","type":"quantitative","scale":{"domain":[1.04114,1.2408],"nice":false,"zero":false},"axis":null},"text":{"field":"txt"}}},
{"data":{"name":"shift"},"mark":{"type":"point","shape":"triangle-down","filled":true,"size":50,"color":"#8A9AA8","opacity":1},"encoding":{"x":{"field":"i","type":"quantitative","scale":{"domain":[-2.05,167.12],"nice":false,"zero":false},"axis":null},"y":{"field":"p","type":"quantitative","scale":{"domain":[1.04114,1.2408],"nice":false,"zero":false},"axis":null}}},
{"data":{"name":"cur"},"mark":{"type":"tick","orient":"horizontal","size":36,"thickness":9,"color":"#FFFFFF","opacity":1,"xOffset":19},"encoding":{"x":{"value":"width"},"y":{"field":"p","type":"quantitative","scale":{"domain":[1.04114,1.2408],"nice":false,"zero":false},"axis":null}}},
{"data":{"name":"cur"},"mark":{"type":"text","align":"left","baseline":"middle","font":"Liberation Sans","fontSize":9.5,"color":"#000000","dx":5},"encoding":{"x":{"value":"width"},"y":{"field":"p","type":"quantitative","scale":{"domain":[1.04114,1.2408],"nice":false,"zero":false},"axis":null},"text":{"field":"p","type":"quantitative","format":".4f"}}}
]
},
{
"width":1015,"height":79,
"layer":[
{"data":{"name":"grid"},"transform":[{"filter":"datum.kind=='week'"}],"mark":{"type":"rule","color":"#FFFFFF","strokeDash":[4,3],"strokeWidth":1},"encoding":{"x":{"field":"i","type":"quantitative","scale":{"domain":[-2.05,167.12],"nice":false,"zero":false},"axis":null}}},
{"data":{"name":"grid"},"transform":[{"filter":"datum.kind=='month'"}],"mark":{"type":"rule","color":"#FF0000","strokeWidth":1},"encoding":{"x":{"field":"i","type":"quantitative","scale":{"domain":[-2.05,167.12],"nice":false,"zero":false},"axis":null}}},
{"data":{"name":"wk"},"mark":{"type":"line","color":"#1E90FF","strokeWidth":1,"clip":true},"encoding":{"x":{"field":"i","type":"quantitative","scale":{"domain":[-2.05,167.12],"nice":false,"zero":false},"axis":null},"y":{"field":"blue","type":"quantitative","scale":{"domain":[-26573,296387],"nice":false,"zero":false},"axis":{"orient":"right","title":null,"values":[0,265727.7],"labelExpr":"datum.value == 0 ? '0' : '265727.7'"}}}},
{"data":{"name":"wk"},"mark":{"type":"line","color":"#FF0000","strokeWidth":1,"clip":true},"encoding":{"x":{"field":"i","type":"quantitative","scale":{"domain":[-2.05,167.12],"nice":false,"zero":false},"axis":null},"y":{"field":"red","type":"quantitative","scale":{"domain":[-26573,296387],"nice":false,"zero":false},"axis":null}}},
{"data":{"name":"wk"},"mark":{"type":"point","filled":true,"size":34,"color":"#1E90FF","opacity":1,"clip":true},"encoding":{"x":{"field":"i","type":"quantitative","scale":{"domain":[-2.05,167.12],"nice":false,"zero":false},"axis":null},"y":{"field":"blue","type":"quantitative","scale":{"domain":[-26573,296387],"nice":false,"zero":false},"axis":null}}},
{"data":{"name":"wk"},"transform":[{"filter":"datum.hand == 1"}],"mark":{"type":"point","shape":"circle","filled":false,"size":70,"color":"#FFFFFF","strokeWidth":1.5,"opacity":1,"clip":true},"encoding":{"x":{"field":"i","type":"quantitative","scale":{"domain":[-2.05,167.12],"nice":false,"zero":false},"axis":null},"y":{"field":"red","type":"quantitative","scale":{"domain":[-26573,296387],"nice":false,"zero":false},"axis":null}}},
{"data":{"name":"wk"},"mark":{"type":"point","filled":true,"size":34,"color":"#FF0000","opacity":1,"clip":true},"encoding":{"x":{"field":"i","type":"quantitative","scale":{"domain":[-2.05,167.12],"nice":false,"zero":false},"axis":null},"y":{"field":"red","type":"quantitative","scale":{"domain":[-26573,296387],"nice":false,"zero":false},"axis":null}}}
]
},
{
"width":1015,"height":78,
"layer":[
{"data":{"name":"grid"},"transform":[{"filter":"datum.kind=='week'"}],"mark":{"type":"rule","color":"#FFFFFF","strokeDash":[4,3],"strokeWidth":1},"encoding":{"x":{"field":"i","type":"quantitative","scale":{"domain":[-2.05,167.12],"nice":false,"zero":false},"axis":null}}},
{"data":{"name":"grid"},"transform":[{"filter":"datum.kind=='month'"}],"mark":{"type":"rule","color":"#FF0000","strokeWidth":1},"encoding":{"x":{"field":"i","type":"quantitative","scale":{"domain":[-2.05,167.12],"nice":false,"zero":false},"axis":null}}},
{"data":{"name":"days"},"mark":{"type":"area","color":"#FF0000","opacity":1,"interpolate":"step","clip":true},"encoding":{"x":{"field":"i","type":"quantitative","scale":{"domain":[-2.05,167.12],"nice":false,"zero":false},"axis":{"orient":"bottom","title":null,"values":[0.83,11.5,22.17,32.83,43.5,54.17,64.83,75.5,86.17,96.83,107.5,118.17,128.83,139.5],"labels":false,"ticks":true,"tickSize":3,"domain":false,"grid":false}},"y":{"field":"osc","type":"quantitative","scale":{"domain":[-16.04,15.47],"nice":false,"zero":false},"axis":{"orient":"right","title":null,"values":[-13,0,13],"labelExpr":"datum.value == 0 ? '0.00' : (datum.value > 0 ? '13' : '-13')"}},"y2":{"datum":0}}}
]
},
{
"width":1015,"height":13,
"view":{"stroke":null},
"layer":[
{"data":{"name":"xl"},"mark":{"type":"text","align":"left","baseline":"middle","font":"Liberation Sans","fontSize":9.5,"color":"#FFFFFF"},"encoding":{"x":{"field":"i","type":"quantitative","scale":{"domain":[-2.05,167.12],"nice":false,"zero":false},"axis":null},"text":{"field":"txt"}}},
{"data":{"name":"rl"},"mark":{"type":"tick","orient":"horizontal","size":80,"thickness":13,"color":"#FF0000","opacity":1,"clip":true},"encoding":{"x":{"field":"i","type":"quantitative","scale":{"domain":[-2.05,167.12],"nice":false,"zero":false},"axis":null}}},
{"data":{"name":"rl"},"mark":{"type":"text","align":"center","baseline":"middle","font":"Liberation Sans","fontSize":9.5,"color":"#000000","clip":true},"encoding":{"x":{"field":"i","type":"quantitative","scale":{"domain":[-2.05,167.12],"nice":false,"zero":false},"axis":null},"text":{"field":"txt"}}}
]
}
]
}
